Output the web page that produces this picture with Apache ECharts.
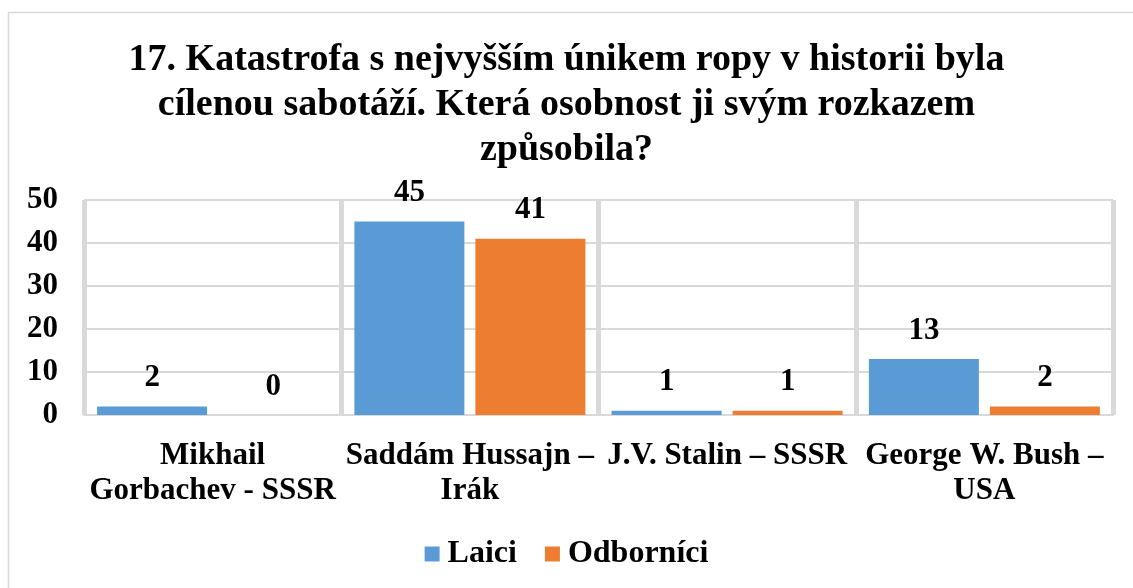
<!DOCTYPE html>
<html>
<head>
<meta charset="utf-8">
<script src="https://cdn.jsdelivr.net/npm/echarts@6/dist/echarts.min.js"></script>
<style>html,body{margin:0;padding:0;background:#fff}#c{width:1133px;height:588px}</style>
</head>
<body>
<div id="c"></div>
<script>
const titleText = '17. Katastrofa s nejvyšším únikem ropy v historii byla\ncílenou sabotáží. Která osobnost ji svým rozkazem\nzpůsobila?';
const categories = ['Mikhail\nGorbachev - SSSR', 'Saddám Hussajn –\nIrák', 'J.V. Stalin – SSSR', 'George W. Bush –\nUSA'];
const seriesNames = ['Laici', 'Odborníci'];
const laici = [2, 45, 1, 13];
const odbornici = [0, 41, 1, 2];
const yTicks = [0, 10, 20, 30, 40, 50];

const FONT = '"Liberation Serif", "Times New Roman", serif';
const chart = echarts.init(document.getElementById('c'), null, {renderer: 'canvas'});
chart.setOption({
  backgroundColor: '#fff',
  animation: false,
  graphic: [{
    type: 'rect', shape: {x: 8.5, y: 12.5, width: 1200, height: 700},
    style: {fill: 'none', stroke: '#d9d9d9', lineWidth: 1.5}, silent: true, z: -10
  }],
  title: {
    text: titleText, left: 'center', top: 33,
    textStyle: {fontFamily: FONT, fontWeight: 'bold', fontSize: 38, lineHeight: 45, color: '#000'}
  },
  legend: {
    bottom: 13, left: 'center', itemWidth: 15, itemHeight: 15, itemGap: 28,
    icon: 'rect',
    textStyle: {fontFamily: FONT, fontWeight: 'bold', fontSize: 32, color: '#000', padding: [0, 0, 0, 3]},
    data: seriesNames
  },
  grid: {left: 84, right: 20, top: 200, bottom: 173, containLabel: false},
  xAxis: {
    type: 'category', data: categories,
    axisLine: {show: true, lineStyle: {color: '#d9d9d9', width: 2}},
    axisTick: {show: false},
    splitLine: {show: true, lineStyle: {color: '#d9d9d9', width: 5}},
    axisLabel: {fontFamily: FONT, fontWeight: 'bold', fontSize: 31, color: '#000', lineHeight: 35, margin: 23, interval: 0}
  },
  yAxis: {
    type: 'value', min: yTicks[0], max: yTicks[yTicks.length - 1], interval: 10,
    axisLine: {show: false}, axisTick: {show: false},
    splitLine: {show: true, lineStyle: {color: '#d9d9d9', width: 2}},
    axisLabel: {fontFamily: FONT, fontWeight: 'bold', fontSize: 31, color: '#000', margin: 26}
  },
  series: [
    {name: seriesNames[0], type: 'bar', data: laici, barWidth: 110, barGap: '10%',
     itemStyle: {color: '#5b9bd5'},
     label: {show: true, position: 'top', distance: 13, fontFamily: FONT, fontWeight: 'bold', fontSize: 31, color: '#000'}},
    {name: seriesNames[1], type: 'bar', data: odbornici, barWidth: 110,
     itemStyle: {color: '#ed7d31'},
     label: {show: true, position: 'top', distance: 13, fontFamily: FONT, fontWeight: 'bold', fontSize: 31, color: '#000'}}
  ]
});
</script>
</body>
</html>
